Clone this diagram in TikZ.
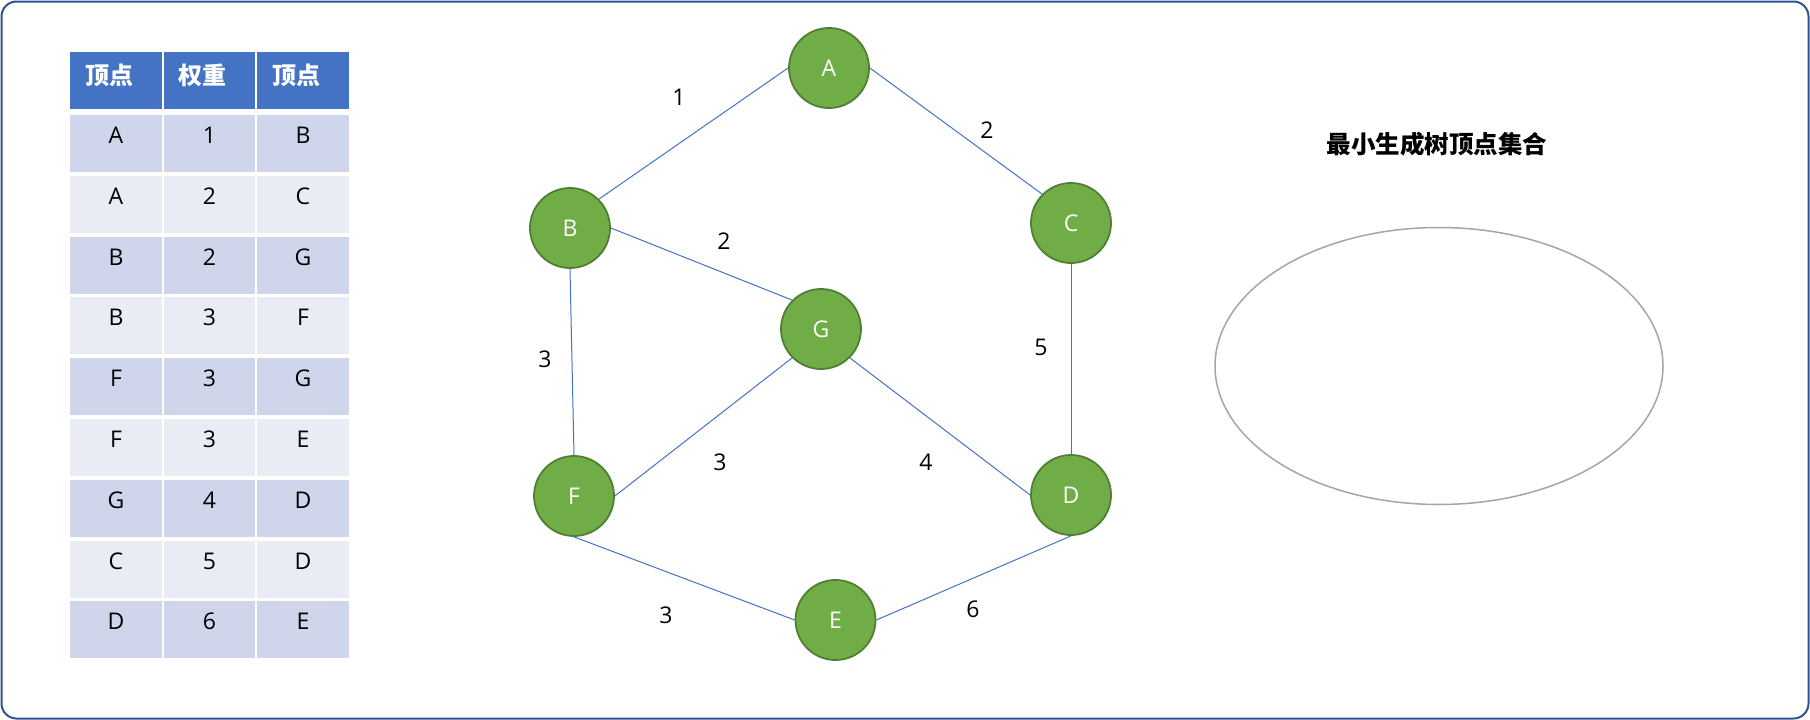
\documentclass[tikz,border=0pt]{standalone}
\usepackage{fontspec}
\setmainfont{Open Sans}
\newfontfamily\cjk{Noto Sans CJK SC}
\usepackage{tikz}
\usetikzlibrary{positioning}
\definecolor{frameblue}{HTML}{2F528F}
\definecolor{headblue}{HTML}{4472C4}
\definecolor{rowdark}{HTML}{CFD5EA}
\definecolor{rowlight}{HTML}{E9EBF5}
\definecolor{vfill}{HTML}{70AD47}
\definecolor{vdraw}{HTML}{507E32}
\definecolor{edgeblue}{HTML}{4472C4}
\definecolor{setgray}{HTML}{A5A5A5}

\begin{document}
\begin{tikzpicture}[
  x=1pt,y=-1pt,
  cell/.style={minimum width=91.5pt,minimum height=57pt,inner sep=0pt,
               text height=12pt,text depth=12pt,font=\fontsize{23}{27}\selectfont},
  head/.style={cell,fill=headblue,text=white,inner xsep=15pt,text width=61.5pt,
               text height=14pt,text depth=6pt,
               align=left,font=\cjk\bfseries\fontsize{24}{28}\selectfont},
  vertex/.style={circle,fill=vfill,draw=vdraw,line width=1.8pt,minimum size=80pt,
                 inner sep=0pt,text=white,font=\fontsize{23}{27}\selectfont},
  wt/.style={font=\fontsize{23}{27}\selectfont},
  link/.style={edgeblue,line width=1pt}
]
  \useasboundingbox (0,0) rectangle (1810,720);
  \draw[frameblue,line width=2pt,rounded corners=15pt] (1.5,1.5) rectangle (1808.5,718.5);

  % edge table
  \node[head] (h1) at (116,80.5) {顶点};
  \node[head] (h2) at (209.5,80.5) {权重};
  \node[head] (h3) at (303,80.5) {顶点};
  \foreach \va/\w/\vb [count=\i] in {A/1/B,A/2/C,B/2/G,B/3/F,F/3/G,F/3/E,G/4/D,C/5/D,D/6/E} {
    \pgfmathsetmacro\ry{143.5+60.8*(\i-1)}
    \ifodd\i\relax\def\rc{rowdark}\else\def\rc{rowlight}\fi
    \node[cell,fill=\rc] (c\i-1) at (116,\ry) {\va};
    \node[cell,fill=\rc] (c\i-2) at (209.5,\ry) {\w};
    \node[cell,fill=\rc] (c\i-3) at (303,\ry) {\vb};
  }

  % graph
  \node[vertex] (A) at (829,68) {A};
  \node[vertex] (B) at (570,228) {B};
  \node[vertex] (C) at (1071,223) {C};
  \node[vertex] (G) at (821,329) {G};
  \node[vertex] (F) at (574,496) {F};
  \node[vertex] (D) at (1071,495) {D};
  \node[vertex] (E) at (835.5,620) {E};
  \draw[link] (B.north east) -- (A.west);
  \draw[link] (A.east) -- (C.north west);
  \draw[link] (B.east) -- (G.north west);
  \draw[link] (B.south) -- (F.north);
  \draw[link] (C.south) -- (D.north);
  \draw[link] (F.east) -- (G.south west);
  \draw[link] (G.south east) -- (D.west);
  \draw[link] (F.south) -- (E.west);
  \draw[link] (E.east) -- (D.south);
  \node[wt] (w1) at (679,97) {1};
  \node[wt] (w2) at (987,130) {2};
  \node[wt] (w3) at (724,241) {2};
  \node[wt] (w4) at (545,359) {3};
  \node[wt] (w5) at (1041,347) {5};
  \node[wt] (w6) at (720,462) {3};
  \node[wt] (w7) at (926,462) {4};
  \node[wt] (w8) at (666,615) {3};
  \node[wt] (w9) at (973,609) {6};

  % tree vertex set
  \node[font=\cjk\bfseries\fontsize{24.5}{29}\selectfont] (title) at (1437,144) {最小生成树顶点集合};
  \draw[setgray,line width=1.5pt] (1439,366) ellipse [x radius=224,y radius=138.5];
\end{tikzpicture}
\end{document}
